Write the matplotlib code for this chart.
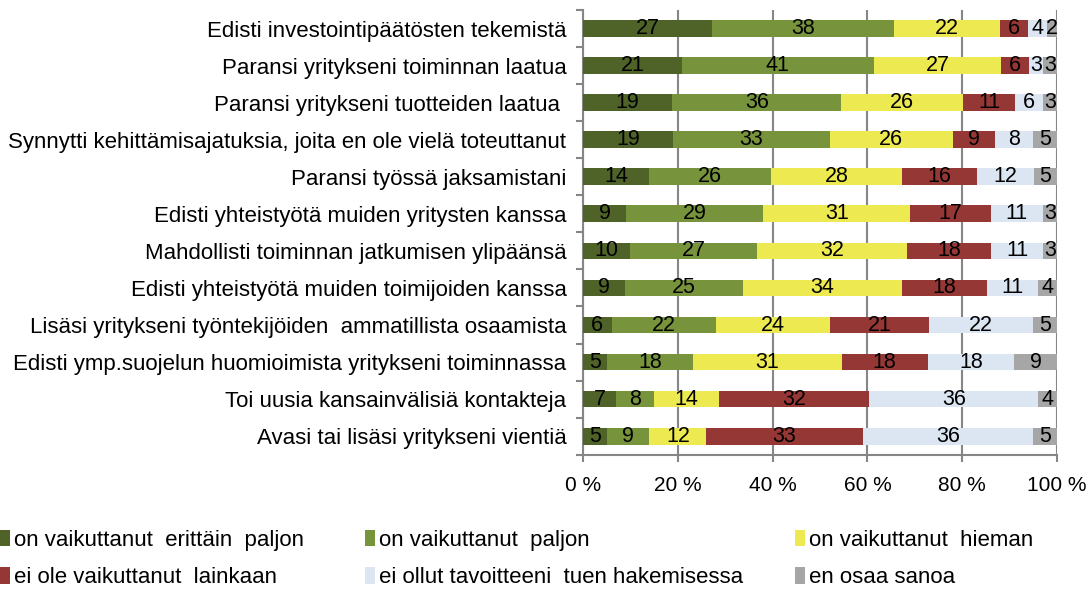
import numpy as np
import matplotlib.pyplot as plt

plt.rcParams['font.family'] = ['Liberation Sans', 'DejaVu Sans']

categories = [
    'Edisti investointipäätösten tekemistä',
    'Paransi yritykseni toiminnan laatua',
    'Paransi yritykseni tuotteiden laatua ',
    'Synnytti kehittämisajatuksia, joita en ole vielä toteuttanut',
    'Paransi työssä jaksamistani',
    'Edisti yhteistyötä muiden yritysten kanssa',
    'Mahdollisti toiminnan jatkumisen ylipäänsä',
    'Edisti yhteistyötä muiden toimijoiden kanssa',
    'Lisäsi yritykseni työntekijöiden  ammatillista osaamista',
    'Edisti ymp.suojelun huomioimista yritykseni toiminnassa',
    'Toi uusia kansainvälisiä kontakteja',
    'Avasi tai lisäsi yritykseni vientiä',
]

series_names = [
    'on vaikuttanut  erittäin  paljon',
    'on vaikuttanut  paljon',
    'on vaikuttanut  hieman',
    'ei ole vaikuttanut  lainkaan',
    'ei ollut tavoitteeni  tuen hakemisessa',
    'en osaa sanoa',
]

erittain = [27, 21, 19, 19, 14, 9, 10, 9, 6, 5, 7, 5]
paljon = [38, 41, 36, 33, 26, 29, 27, 25, 22, 18, 8, 9]
hieman = [22, 27, 26, 26, 28, 31, 32, 34, 24, 31, 14, 12]
ei_lainkaan = [6, 6, 11, 9, 16, 17, 18, 18, 21, 18, 32, 33]
ei_tavoite = [4, 3, 6, 8, 12, 11, 11, 11, 22, 18, 36, 36]
en_osaa = [2, 3, 3, 5, 5, 3, 3, 4, 5, 9, 4, 5]

colors = ['#4F6228', '#77933C', '#EDE951', '#953735', '#DCE6F2', '#A6A6A6']

data = np.array([erittain, paljon, hieman, ei_lainkaan, ei_tavoite, en_osaa], dtype=float)
pct = data / data.sum(axis=0) * 100

fig = plt.figure(figsize=(10.92, 5.89), dpi=100)
ax = fig.add_axes([0.534, 0.228, 0.434, 0.755])

y = np.arange(len(categories))
left = np.zeros(len(categories))
bars = []
for i in range(len(series_names)):
    b = ax.barh(y, pct[i], left=left, height=0.45, color=colors[i], label=series_names[i], zorder=3)
    bars.append(b)
    for j in range(len(categories)):
        ax.text(left[j] + pct[i][j] / 2, y[j], '%d' % data[i][j], ha='center', va='center',
                fontsize=15.5, color='black', zorder=4)
    left = left + pct[i]

ax.set_xlim(0, 100)
ax.set_ylim(len(categories) - 0.5, -0.5)
ax.set_xticks(np.arange(0, 101, 20))
ax.set_xticklabels(['%d %%' % v for v in range(0, 101, 20)], fontsize=15)
ax.set_yticks(y)
ax.set_yticklabels(categories, fontsize=16)
ax.set_yticks(np.arange(-0.5, len(categories), 1), minor=True)
ax.tick_params(axis='y', which='major', length=0, pad=12)
ax.tick_params(axis='y', which='minor', length=5, color='#868686', width=1.5)
ax.tick_params(axis='x', length=5, color='#868686', width=1.5, pad=10)
ax.grid(axis='x', color='#868686', linewidth=1.5, zorder=0)
for s in ['top', 'right']:
    ax.spines[s].set_visible(False)
for s in ['left', 'bottom']:
    ax.spines[s].set_color('#868686')
    ax.spines[s].set_linewidth(1.5)

# legend: three columns, filled row by row
col_x = [0.0, 0.334, 0.728]
for c in range(3):
    hs = [bars[c], bars[c + 3]]
    ls = [series_names[c], series_names[c + 3]]
    leg = fig.legend(hs, ls, loc='center left', bbox_to_anchor=(col_x[c], 0.051), frameon=False,
                     fontsize=16, handlelength=0.45, handleheight=0.75, handletextpad=0.2,
                     labelspacing=0.75, borderpad=0, borderaxespad=0)

fig.savefig('out.png', dpi=100)
